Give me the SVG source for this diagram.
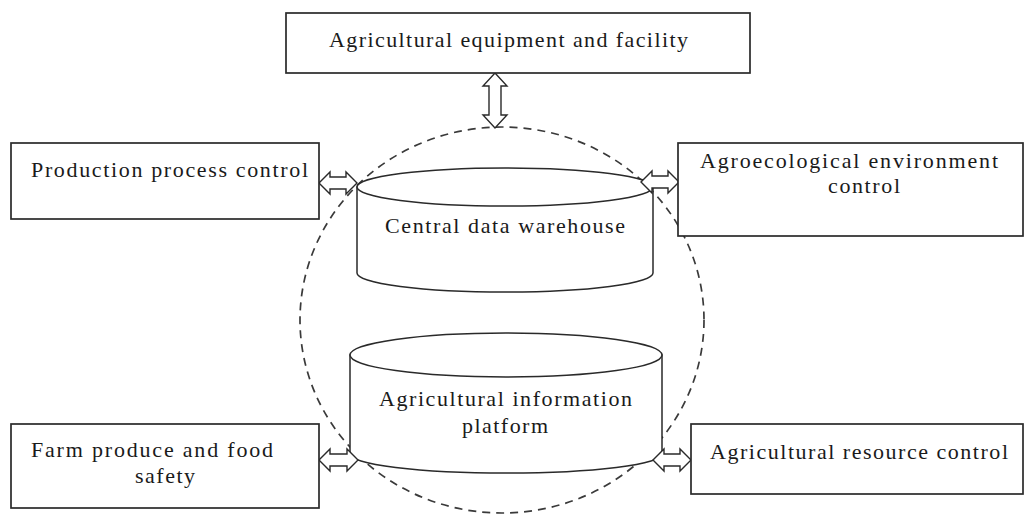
<svg xmlns="http://www.w3.org/2000/svg" width="1026" height="515" viewBox="0 0 1026 515">
<style>
.box{fill:#fff;stroke:#2a2a2a;stroke-width:1.7}
.cyl{fill:#fff;stroke:#2a2a2a;stroke-width:1.5}
.arr{fill:#fff;stroke:#2a2a2a;stroke-width:1.4;stroke-linejoin:miter}
.circ{fill:none;stroke:#3a3a3a;stroke-width:1.7;stroke-dasharray:8 6}
text{font-family:"Liberation Serif","Times New Roman",serif;font-size:22px;fill:#1a1a1a}
</style>
<rect width="1026" height="515" fill="#fff"/>
<ellipse id="boundary" class="circ" cx="502" cy="320" rx="202" ry="193"/>
<g id="central-data-warehouse">
<path class="cyl" d="M357,187 L357,273 A148,19 0 0 0 653,273 L653,187 Z"/>
<ellipse class="cyl" cx="505" cy="187" rx="148" ry="19"/>
<text x="385" y="233" textLength="240" lengthAdjust="spacing">Central data warehouse</text>
</g>
<g id="agricultural-information-platform">
<path class="cyl" d="M350,355 L350,454 A156,19 0 0 0 662,454 L662,355 Z"/>
<ellipse class="cyl" cx="506" cy="355" rx="156" ry="22"/>
<text x="379" y="406" textLength="253" lengthAdjust="spacing">Agricultural information</text>
<text x="462" y="433" textLength="86" lengthAdjust="spacing">platform</text>
</g>
<g id="connectors">
<polygon class="arr" points="495,73 507,86 501,86 501,115 507,115 495,128 483,115 489,115 489,86 483,86"/>
<polygon class="arr" points="319,183 330,172 330,177 346,177 346,172 357,183 346,194 346,189 330,189 330,194"/>
<polygon class="arr" points="641,182 652,171 652,176 668,176 668,171 679,182 668,193 668,188 652,188 652,193"/>
<polygon class="arr" points="319,460 330,449 330,454 347,454 347,449 358,460 347,471 347,466 330,466 330,471"/>
<polygon class="arr" points="653,460 664,449 664,454 680,454 680,449 691,460 680,471 680,466 664,466 664,471"/>
</g>
<g id="agricultural-equipment">
<rect class="box" x="286" y="13" width="464" height="60"/>
<text x="329" y="47" textLength="359" lengthAdjust="spacing">Agricultural equipment and facility</text>
</g>
<g id="production-process-control">
<rect class="box" x="11" y="143" width="308" height="76"/>
<text x="31" y="177" textLength="277" lengthAdjust="spacing">Production process control</text>
</g>
<g id="agroecological-environment-control">
<rect class="box" x="678" y="143" width="345" height="93"/>
<text x="700" y="168" textLength="298" lengthAdjust="spacing">Agroecological  environment</text>
<text x="828" y="193" textLength="72" lengthAdjust="spacing">control</text>
</g>
<g id="farm-produce-food-safety">
<rect class="box" x="11" y="424" width="308" height="84"/>
<text x="31" y="457" textLength="242" lengthAdjust="spacing">Farm produce and food</text>
<text x="135" y="483" textLength="60" lengthAdjust="spacing">safety</text>
</g>
<g id="agricultural-resource-control">
<rect class="box" x="691" y="424" width="332" height="70"/>
<text x="710" y="459" textLength="298" lengthAdjust="spacing">Agricultural resource control</text>
</g>
</svg>
